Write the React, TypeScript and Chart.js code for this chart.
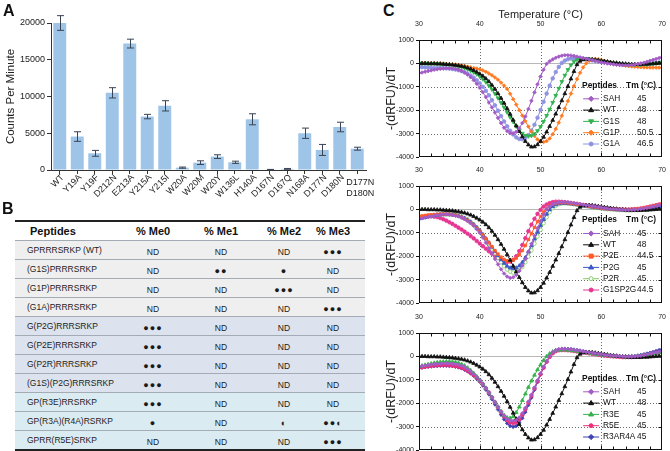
import React, { useEffect, useRef } from 'react';
import { Chart, registerables } from 'chart.js';

Chart.register(...registerables);

const FONT = '"Liberation Sans", Arial, Helvetica, sans-serif';

// ---------------- Panel A data ----------------
const mutants = ['WT', 'Y19A', 'Y19F', 'D212N', 'E213A', 'Y215A', 'Y215I', 'W20A', 'W20M', 'W20Y', 'W136L', 'H140A', 'D167N', 'D167Q', 'N168A', 'D177N', 'D180N', 'D177N D180N'];
const cpm = [20000, 4550, 2270, 10500, 17200, 7270, 8730, 320, 1000, 1820, 1050, 6900, 50, 150, 5000, 2730, 5850, 2900];
const cpmErr = [1000, 650, 400, 700, 600, 300, 700, 80, 250, 250, 150, 750, 30, 60, 700, 750, 650, 200];

// ---------------- Panel B data ----------------
const peptides = ['GPRRRSRKP (WT)', '(G1S)PRRRSRKP', '(G1P)PRRRSRKP', '(G1A)PRRRSRKP', 'G(P2G)RRRSRKP', 'G(P2E)RRRSRKP', 'G(P2R)RRRSRKP', '(G1S)(P2G)RRRSRKP', 'GP(R3E)RRSRKP', 'GP(R3A)(R4A)RSRKP', 'GPRR(R5E)SRKP'];
const me0 = ['ND', 'ND', 'ND', 'ND', '●●●', '●●●', '●●●', '●●●', '●●●', '●', 'ND'];
const me1 = ['ND', '●●', 'ND', 'ND', 'ND', 'ND', 'ND', 'ND', 'ND', 'ND', 'ND'];
const me2 = ['ND', '●', '●●●', 'ND', 'ND', 'ND', 'ND', 'ND', 'ND', '◐', 'ND'];
const me3 = ['●●●', 'ND', 'ND', '●●●', 'ND', 'ND', 'ND', 'ND', 'ND', '●●◐', '●●●'];
const tableHeaders = ['Peptides', '% Me0', '% Me1', '% Me2', '% Me3'];

// ---------------- Panel C data ----------------
const temps = [
  30, 30.5, 31, 31.5, 32, 32.5, 33, 33.5, 34, 34.5,
  35, 35.5, 36, 36.5, 37, 37.5, 38, 38.5, 39, 39.5,
  40, 40.5, 41, 41.5, 42, 42.5, 43, 43.5, 44, 44.5,
  45, 45.5, 46, 46.5, 47, 47.5, 48, 48.5, 49, 49.5,
  50, 50.5, 51, 51.5, 52, 52.5, 53, 53.5, 54, 54.5,
  55, 55.5, 56, 56.5, 57, 57.5, 58, 58.5, 59, 59.5,
  60, 60.5, 61, 61.5, 62, 62.5, 63, 63.5, 64, 64.5,
  65, 65.5, 66, 66.5, 67, 67.5, 68, 68.5, 69, 69.5,
  70];

const wtCurve = [
  0, 0, 0, -10, -10, -10, -20, -20, -30, -40,
  -50, -60, -80, -100, -120, -150, -190, -240, -300, -370,
  -450, -540, -650, -780, -930, -1100, -1290, -1490, -1700, -1930,
  -2170, -2420, -2670, -2910, -3130, -3330, -3480, -3570, -3560, -3470,
  -3330, -3150, -2930, -2690, -2430, -2160, -1880, -1590, -1290, -980,
  -660, -340, -50, 100, 160, 180, 180, 170, 150, 130,
  110, 90, 70, 50, 30, 20, 0, -10, -20, -30,
  -40, -40, -40, -40, -30, -30, -20, -10, 0, 10,
  20];

const p1SAH = [
  -420, -390, -360, -330, -300, -270, -250, -230, -220, -210,
  -210, -220, -240, -270, -320, -390, -480, -590, -720, -870,
  -1040, -1230, -1440, -1670, -1880, -2100, -2330, -2550, -2750, -2890,
  -2980, -2990, -2920, -2770, -2550, -2270, -1950, -1600, -1240, -890,
  -560, -270, -20, 90, 170, 240, 290, 330, 350, 350,
  340, 320, 290, 260, 230, 200, 170, 140, 110, 80,
  50, 20, 0, -20, -40, -60, -70, -80, -80, -80,
  -70, -50, -30, 0, 30, 70, 110, 150, 190, 230,
  270];
const p1G1S = [
  0, 0, 0, 0, -10, -10, -20, -30, -40, -50,
  -60, -80, -100, -130, -160, -200, -250, -310, -380, -460,
  -560, -670, -800, -950, -1110, -1290, -1480, -1680, -1880, -2090,
  -2300, -2500, -2690, -2860, -2990, -3080, -3110, -3090, -3010, -2880,
  -2700, -2480, -2230, -1960, -1670, -1370, -1070, -780, -510, -270,
  -70, 80, 160, 200, 210, 200, 180, 160, 140, 120,
  100, 70, 50, 30, 10, -10, -30, -40, -50, -60,
  -60, -60, -60, -50, -40, -30, -20, -10, 0, 20,
  40];
const p1G1P = [
  20, 20, 20, 20, 10, 10, 0, 0, -10, -20,
  -30, -40, -50, -60, -80, -110, -140, -170, -200, -220,
  -250, -300, -360, -430, -510, -600, -700, -820, -950, -1090,
  -1300, -1530, -1760, -2000, -2230, -2470, -2700, -2920, -3100, -3250,
  -3340, -3360, -3320, -3210, -3030, -2800, -2530, -2240, -1930, -1610,
  -1290, -970, -670, -400, -170, 0, 110, 170, 190, 180,
  150, 110, 70, 30, 0, -30, -60, -80, -100, -120,
  -130, -140, -150, -160, -170, -170, -180, -180, -180, -180,
  -180];
const p1G1A = [
  -150, -160, -170, -180, -190, -200, -200, -200, -200, -210,
  -220, -240, -260, -290, -330, -380, -440, -520, -610, -720,
  -850, -1000, -1170, -1360, -1570, -1790, -2020, -2250, -2480, -2690,
  -2880, -3040, -3160, -3230, -3240, -3180, -3060, -2870, -2620, -2320,
  -1990, -1640, -1290, -950, -640, -370, -150, 20, 120, 180,
  210, 220, 220, 210, 190, 170, 150, 130, 110, 90,
  70, 50, 30, 10, 0, -20, -30, -40, -50, -60,
  -60, -60, -50, -50, -40, -30, -20, 0, 20, 40,
  60];

const p2SAH = [
  -400, -380, -350, -320, -290, -260, -240, -220, -210, -210,
  -220, -240, -270, -300, -350, -420, -500, -590, -700, -850,
  -1000, -1200, -1420, -1650, -1880, -2120, -2350, -2560, -2740, -2870,
  -2930, -2900, -2800, -2630, -2400, -2120, -1800, -1470, -1130, -800,
  -500, -230, 0, 130, 220, 270, 300, 310, 310, 300,
  290, 270, 250, 230, 200, 180, 160, 140, 120, 100,
  80, 60, 40, 20, 10, 0, -10, -10, -20, -20,
  -20, -10, 0, 20, 40, 60, 90, 120, 150, 180,
  210];
const p2P2E = [
  -300, -280, -260, -240, -230, -220, -210, -200, -200, -200,
  -210, -230, -250, -290, -340, -400, -480, -570, -680, -800,
  -940, -1090, -1250, -1420, -1590, -1760, -1910, -2040, -2140, -2200,
  -2210, -2170, -2080, -1940, -1760, -1540, -1290, -1030, -770, -520,
  -300, -110, 40, 150, 220, 260, 280, 290, 290, 280,
  260, 240, 220, 200, 180, 160, 140, 120, 100, 80,
  60, 40, 30, 20, 10, 0, 0, -10, -10, -10,
  0, 10, 20, 40, 60, 80, 110, 140, 170, 200,
  230];
const p2P2G = [
  -400, -370, -340, -310, -280, -260, -240, -230, -220, -220,
  -220, -230, -250, -280, -320, -380, -450, -540, -650, -770,
  -910, -1070, -1240, -1420, -1610, -1800, -1980, -2150, -2300, -2420,
  -2500, -2530, -2500, -2410, -2260, -2060, -1820, -1550, -1260, -970,
  -690, -430, -200, -10, 120, 200, 240, 260, 260, 250,
  240, 220, 200, 180, 160, 140, 120, 100, 80, 60,
  50, 30, 20, 10, 0, -10, -20, -20, -30, -30,
  -20, -20, -10, 0, 20, 30, 50, 70, 90, 110,
  130];
const p2P2R = [
  -350, -330, -310, -290, -270, -250, -230, -220, -210, -210,
  -210, -220, -240, -270, -310, -370, -440, -530, -640, -770,
  -920, -1090, -1270, -1470, -1670, -1870, -2070, -2260, -2430, -2570,
  -2660, -2700, -2680, -2600, -2460, -2260, -2020, -1750, -1460, -1160,
  -870, -590, -340, -120, 50, 160, 220, 250, 260, 250,
  240, 220, 200, 180, 160, 140, 120, 100, 80, 60,
  40, 20, 10, 0, -10, -20, -30, -30, -40, -40,
  -40, -30, -30, -20, -10, 0, 20, 30, 50, 60,
  80];
const p2G1SP2G = [
  -330, -320, -310, -300, -300, -310, -330, -370, -420, -480,
  -550, -620, -700, -780, -860, -950, -1040, -1140, -1240, -1350,
  -1460, -1570, -1680, -1790, -1890, -1990, -2080, -2160, -2220, -2250,
  -2230, -2150, -2000, -1780, -1520, -1230, -930, -650, -400, -190,
  -20, 120, 210, 270, 310, 330, 330, 320, 310, 290,
  270, 250, 230, 210, 190, 170, 150, 130, 110, 90,
  70, 50, 40, 30, 20, 10, 0, 0, -10, -10,
  0, 10, 20, 40, 60, 90, 120, 150, 180, 210,
  240];

const p3SAH = [
  -430, -410, -390, -370, -350, -330, -320, -310, -300, -300,
  -300, -310, -330, -360, -400, -460, -540, -640, -750, -880,
  -1020, -1180, -1360, -1550, -1750, -1960, -2160, -2360, -2530, -2660,
  -2740, -2760, -2720, -2610, -2430, -2200, -1930, -1640, -1330, -1020,
  -720, -440, -190, 20, 170, 260, 300, 320, 320, 310,
  300, 280, 260, 240, 210, 190, 170, 150, 130, 110,
  90, 70, 50, 40, 30, 20, 10, 0, -10, -10,
  -10, 0, 10, 30, 50, 80, 110, 140, 170, 200,
  230];
const p3R3E = [
  -430, -400, -370, -340, -310, -280, -260, -240, -230, -220,
  -220, -230, -250, -280, -330, -400, -490, -600, -720, -860,
  -1010, -1170, -1350, -1540, -1740, -1950, -2150, -2350, -2520, -2620,
  -2640, -2570, -2400, -2160, -1880, -1600, -1320, -1050, -800, -570,
  -360, -170, 0, 120, 200, 250, 270, 280, 280, 270,
  260, 240, 220, 200, 180, 160, 140, 120, 100, 80,
  60, 50, 40, 30, 20, 10, 0, -10, -20, -20,
  -20, -10, 0, 20, 40, 60, 90, 110, 140, 160,
  190];
const p3R5E = [
  -480, -460, -440, -420, -400, -390, -380, -370, -370, -370,
  -380, -390, -410, -440, -480, -540, -610, -700, -800, -910,
  -1040, -1190, -1360, -1550, -1750, -1960, -2170, -2380, -2570, -2720,
  -2820, -2850, -2810, -2690, -2500, -2260, -1980, -1680, -1370, -1060,
  -760, -480, -230, -20, 130, 220, 260, 270, 270, 260,
  250, 230, 210, 190, 170, 150, 130, 110, 90, 70,
  50, 30, 20, 10, 0, -10, -20, -30, -30, -30,
  -30, -20, -10, 10, 30, 50, 80, 110, 140, 170,
  200];
const p3R3AR4A = [
  -500, -480, -460, -440, -430, -420, -410, -400, -400, -400,
  -410, -420, -440, -470, -510, -570, -640, -730, -830, -950,
  -1080, -1240, -1420, -1620, -1830, -2050, -2270, -2490, -2690, -2860,
  -2970, -3010, -2970, -2840, -2640, -2380, -2080, -1760, -1430, -1100,
  -780, -490, -230, -10, 150, 250, 300, 320, 330, 320,
  310, 290, 270, 250, 220, 200, 170, 150, 130, 110,
  90, 70, 50, 40, 30, 20, 10, 0, 0, 0,
  10, 20, 40, 60, 90, 120, 150, 190, 230, 270,
  310];

const plot1Names = ['SAH', 'WT', 'G1S', 'G1P', 'G1A'];
const plot1Tm = ['45', '48', '48', '50.5', '46.5'];
const plot1Values = [p1SAH, wtCurve, p1G1S, p1G1P, p1G1A];

const plot2Names = ['SAH', 'WT', 'P2E', 'P2G', 'P2R', 'G1SP2G'];
const plot2Tm = ['45', '48', '44.5', '45', '45', '44.5'];
const plot2Values = [p2SAH, wtCurve, p2P2E, p2P2G, p2P2R, p2G1SP2G];

const plot3Names = ['SAH', 'WT', 'R3E', 'R5E', 'R3AR4A'];
const plot3Tm = ['45', '48', '45', '45', '45'];
const plot3Values = [p3SAH, wtCurve, p3R3E, p3R5E, p3R3AR4A];

// ---------------- styles (not data) ----------------
type Sty = { color: string; point: string; rot?: number; fill?: string };
const plot1Styles: Sty[] = [
  { color: '#a35cc6', point: 'rectRot' },
  { color: '#111111', point: 'triangle' },
  { color: '#2fb34c', point: 'triangle', rot: 180 },
  { color: '#ff7a22', point: 'rectRot' },
  { color: '#8f92e2', point: 'circle' },
];
const plot2Styles: Sty[] = [
  { color: '#a35cc6', point: 'rectRot' },
  { color: '#111111', point: 'triangle' },
  { color: '#ff5a28', point: 'rect' },
  { color: '#3a58c8', point: 'triangle' },
  { color: '#86cc62', point: 'circle', fill: '#ffffff' },
  { color: '#e63592', point: 'circle' },
];
const plot3Styles: Sty[] = [
  { color: '#a35cc6', point: 'rectRot' },
  { color: '#111111', point: 'triangle' },
  { color: '#36b24a', point: 'triangle' },
  { color: '#ec2f7c', point: 'circle' },
  { color: '#3d42b4', point: 'rectRot' },
];

function drawMarker(ctx: CanvasRenderingContext2D, s: Sty, x: number, y: number, r: number) {
  ctx.save();
  ctx.translate(x, y);
  ctx.rotate(((s.rot || 0) * Math.PI) / 180);
  ctx.beginPath();
  if (s.point === 'circle') ctx.arc(0, 0, r, 0, Math.PI * 2);
  else if (s.point === 'rect') ctx.rect(-r, -r, 2 * r, 2 * r);
  else if (s.point === 'rectRot') {
    const q = r * 1.3;
    ctx.moveTo(0, -q); ctx.lineTo(q, 0); ctx.lineTo(0, q); ctx.lineTo(-q, 0); ctx.closePath();
  } else {
    const q = r * 1.3;
    ctx.moveTo(0, -q); ctx.lineTo(q * 0.95, q * 0.6); ctx.lineTo(-q * 0.95, q * 0.6); ctx.closePath();
  }
  ctx.fillStyle = s.fill || s.color;
  ctx.fill();
  ctx.strokeStyle = s.color;
  ctx.lineWidth = 1;
  ctx.stroke();
  ctx.restore();
}

function makeBar(canvas: HTMLCanvasElement) {
  const errorBars = {
    id: 'errorBars',
    afterDatasetsDraw(chart: any) {
      const { ctx } = chart;
      const y = chart.scales.y;
      const meta = chart.getDatasetMeta(0);
      ctx.save();
      ctx.strokeStyle = '#3b4453';
      ctx.lineWidth = 1;
      meta.data.forEach((bar: any, i: number) => {
        const x = Math.round(bar.x) + 0.5;
        const t = y.getPixelForValue(cpm[i] + cpmErr[i]);
        const b = y.getPixelForValue(Math.max(0, cpm[i] - cpmErr[i]));
        ctx.beginPath();
        ctx.moveTo(x, t); ctx.lineTo(x, b);
        ctx.moveTo(x - 3.5, t); ctx.lineTo(x + 3.5, t);
        ctx.moveTo(x - 3.5, b); ctx.lineTo(x + 3.5, b);
        ctx.stroke();
      });
      ctx.restore();
    },
  };
  const xLabels = {
    id: 'xLabels',
    afterDraw(chart: any) {
      const { ctx } = chart;
      const xs = chart.scales.x;
      ctx.save();
      ctx.fillStyle = '#222';
      ctx.font = `9px ${FONT}`;
      mutants.forEach((lab, i) => {
        const px = xs.getPixelForValue(i);
        if (i === mutants.length - 1) {
          const parts = lab.split(' ');
          ctx.textAlign = 'center';
          ctx.textBaseline = 'middle';
          ctx.fillText(parts[0], px + 3, 183);
          ctx.fillText(parts[1], px + 3, 194);
        } else {
          ctx.save();
          ctx.translate(px + 3, 176);
          ctx.rotate(-Math.PI / 4);
          ctx.textAlign = 'right';
          ctx.textBaseline = 'middle';
          ctx.fillText(lab, 0, 0);
          ctx.restore();
        }
      });
      ctx.restore();
    },
  };
  return new Chart(canvas, {
    type: 'bar',
    data: {
      labels: mutants,
      datasets: [{ data: cpm, backgroundColor: '#9ec4e8', borderWidth: 0, barPercentage: 0.74, categoryPercentage: 1 }],
    },
    options: {
      animation: false,
      responsive: false,
      maintainAspectRatio: false,
      layout: { padding: { top: 23, right: 14, left: 0, bottom: 0 } },
      plugins: { legend: { display: false }, tooltip: { enabled: false } },
      scales: {
        x: {
          grid: { drawOnChartArea: false, offset: false, tickLength: 4, color: '#333', tickColor: '#333' },
          border: { color: '#333', width: 1 },
          ticks: { display: false },
          afterFit: (s: any) => { s.height = 30; },
        },
        y: {
          min: 0,
          max: 20000,
          ticks: { stepSize: 5000, font: { family: FONT, size: 9 }, color: '#222', padding: 2, callback: (v: any) => String(v) },
          grid: { drawOnChartArea: false, tickLength: 4, color: '#333', tickColor: '#333' },
          border: { color: '#333', width: 1 },
          title: { display: true, text: 'Counts Per Minute', font: { family: FONT, size: 11.5 }, color: '#222', padding: { top: 4, bottom: 0 } },
          afterFit: (s: any) => { s.width = 51; },
        },
      },
    } as any,
    plugins: [errorBars, xLabels],
  });
}

function makeMelt(canvas: HTMLCanvasElement, values: number[][], names: string[], tms: string[], styles: Sty[], showTitle: boolean, xHeight: number, padBottom: number) {
  const decor = {
    id: 'meltDecor',
    beforeDatasetsDraw(chart: any) {
      const { ctx, chartArea: a } = chart;
      const x = chart.scales.x, y = chart.scales.y;
      ctx.save();
      ctx.lineWidth = 1;
      ctx.strokeStyle = '#6a6a6a';
      ctx.setLineDash([1, 2]);
      [40, 50, 60].forEach((t) => {
        const px = Math.round(x.getPixelForValue(t)) + 0.5;
        ctx.beginPath(); ctx.moveTo(px, a.top); ctx.lineTo(px, a.bottom); ctx.stroke();
      });
      [-1000, -2000, -3000].forEach((v) => {
        const py = Math.round(y.getPixelForValue(v)) + 0.5;
        ctx.beginPath(); ctx.moveTo(a.left, py); ctx.lineTo(a.right, py); ctx.stroke();
      });
      ctx.setLineDash([]);
      ctx.strokeStyle = '#b8b8b8';
      const pz = Math.round(y.getPixelForValue(0)) + 0.5;
      ctx.beginPath(); ctx.moveTo(a.left, pz); ctx.lineTo(a.right, pz); ctx.stroke();
      ctx.restore();
    },
    afterDatasetsDraw(chart: any) {
      const { ctx, chartArea: a } = chart;
      const x = chart.scales.x, y = chart.scales.y;
      ctx.save();
      ctx.strokeStyle = '#111';
      ctx.lineWidth = 1;
      const L = Math.round(a.left) + 0.5, R = Math.round(a.right) - 0.5, T = Math.round(a.top) + 0.5, B = Math.round(a.bottom) - 0.5;
      ctx.strokeRect(L, T, R - L, B - T);
      ctx.beginPath();
      for (let t = 32; t < 70; t += 2) {
        const px = Math.round(x.getPixelForValue(t)) + 0.5;
        const len = t % 10 === 0 ? 4 : 3;
        ctx.moveTo(px, T); ctx.lineTo(px, T + len);
        ctx.moveTo(px, B); ctx.lineTo(px, B - len);
      }
      for (let v = -3000; v <= 0; v += 1000) {
        const py = Math.round(y.getPixelForValue(v)) + 0.5;
        ctx.moveTo(R, py); ctx.lineTo(R - 3, py);
      }
      ctx.stroke();
      // legend
      const n = names.length;
      const rowH = 11.3;
      const lastY = a.bottom - 13;
      const firstY = lastY - rowH * (n - 1);
      const titleY = firstY - 13.5;
      ctx.fillStyle = '#111';
      ctx.textBaseline = 'middle';
      ctx.textAlign = 'left';
      ctx.font = `bold 8.4px ${FONT}`;
      ctx.fillText('Peptides', a.right - 80, titleY);
      ctx.fillText('Tm (°C)', a.right - 36, titleY);
      ctx.font = `8.3px ${FONT}`;
      for (let i = 0; i < n; i++) {
        const ry = firstY + i * rowH;
        const s = styles[i];
        ctx.strokeStyle = s.color;
        ctx.lineWidth = 1;
        ctx.beginPath(); ctx.moveTo(a.right - 79, ry); ctx.lineTo(a.right - 63, ry); ctx.stroke();
        drawMarker(ctx, s, a.right - 71, ry, 2);
        ctx.fillStyle = '#111';
        ctx.fillText(names[i], a.right - 59, ry);
        ctx.fillText(tms[i], a.right - 25, ry);
      }
      ctx.restore();
    },
  };
  const datasets = values.map((vals, i) => {
    const s = styles[i];
    return {
      label: names[i],
      data: vals,
      borderColor: s.color,
      backgroundColor: s.color,
      pointBackgroundColor: s.fill || s.color,
      pointBorderColor: s.color,
      pointStyle: s.point,
      pointRotation: s.rot || 0,
      pointRadius: s.point === 'triangle' ? 2.2 : 1.8,
      pointBorderWidth: 0.8,
      borderWidth: 1,
      tension: 0,
    };
  });
  return new Chart(canvas, {
    type: 'line',
    data: { labels: temps, datasets },
    options: {
      animation: false,
      responsive: false,
      maintainAspectRatio: false,
      layout: { padding: { top: 0, right: 4, left: 0, bottom: padBottom } },
      plugins: { legend: { display: false }, tooltip: { enabled: false } },
      scales: {
        x: {
          type: 'linear',
          position: 'top',
          min: 30,
          max: 70,
          ticks: { stepSize: 10, font: { family: FONT, size: 7 }, color: '#222', padding: 4, maxRotation: 0 },
          grid: { display: false },
          border: { display: false },
          title: { display: showTitle, text: 'Temperature (°C)', font: { family: FONT, size: 11 }, color: '#222', padding: { top: 8, bottom: 0 } },
          afterFit: (s: any) => { s.height = xHeight; },
        },
        y: {
          min: -4000,
          max: 1000,
          ticks: { stepSize: 1000, font: { family: FONT, size: 7 }, color: '#222', padding: 2, callback: (v: any) => String(v) },
          grid: { display: true, drawOnChartArea: false, drawTicks: true, tickLength: 3, color: '#111', tickColor: '#111' },
          border: { display: false },
          title: { display: true, text: '-(dRFU)/dT', font: { family: FONT, size: 12.5 }, color: '#222', padding: { top: 4, bottom: 4 } },
          afterFit: (s: any) => { s.width = 39; },
        },
      },
    } as any,
    plugins: [decor],
  });
}

const rowBg = (i: number) => (i < 4 ? '#efefef' : i < 8 ? '#dce3ee' : '#dbebf2');
const colCenters = [153, 221, 284, 333];

export default function App() {
  const aRef = useRef<HTMLCanvasElement>(null);
  const c1Ref = useRef<HTMLCanvasElement>(null);
  const c2Ref = useRef<HTMLCanvasElement>(null);
  const c3Ref = useRef<HTMLCanvasElement>(null);

  useEffect(() => {
    const charts: Chart[] = [];
    charts.push(makeBar(aRef.current!));
    charts.push(makeMelt(c1Ref.current!, plot1Values, plot1Names, plot1Tm, plot1Styles, true, 40, 8));
    charts.push(makeMelt(c2Ref.current!, plot2Values, plot2Names, plot2Tm, plot2Styles, false, 21, 7));
    charts.push(makeMelt(c3Ref.current!, plot3Values, plot3Names, plot3Tm, plot3Styles, false, 21, 10));
    return () => charts.forEach((c) => c.destroy());
  }, []);

  const panelLabel = (text: string, left: number, top: number) => (
    <div style={{ position: 'absolute', left, top, font: `bold 16px/16px ${FONT}`, color: '#111' }}>{text}</div>
  );

  const cellText = (txt: string) => {
    const isDot = txt.indexOf('ND') < 0;
    return (
      <span style={isDot ? { fontSize: 9, letterSpacing: '1px' } : { fontSize: 8.5 }}>{txt}</span>
    );
  };

  return (
    <div style={{ position: 'absolute', left: 0, top: 0, width: 670, height: 451, overflow: 'hidden', background: '#ffffff', fontFamily: FONT, color: '#222' }}>
      <canvas ref={aRef} width={380} height={200} style={{ position: 'absolute', left: 0, top: 0, width: 380, height: 200 }} />
      {panelLabel('A', 3, 3)}
      {panelLabel('B', 2, 201)}
      {panelLabel('C', 383, 3)}

      {/* Table */}
      <div style={{ position: 'absolute', left: 15, top: 220, width: 350, height: 2, background: '#222' }} />
      <div style={{ position: 'absolute', left: 15, top: 222, width: 350, height: 18 }}>
        <div style={{ position: 'absolute', left: 15, top: 0, height: 18, lineHeight: '18px', fontWeight: 'bold', fontSize: 11, color: '#111' }}>{tableHeaders[0]}</div>
        {tableHeaders.slice(1).map((h, j) => (
          <div key={h} style={{ position: 'absolute', left: colCenters[j] - 15 - 30, width: 60, top: 0, height: 18, lineHeight: '18px', textAlign: 'center', fontWeight: 'bold', fontSize: 11, color: '#111' }}>{h}</div>
        ))}
      </div>
      {peptides.map((p, i) => {
        const cells = [me0[i], me1[i], me2[i], me3[i]];
        return (
          <div key={p} style={{ position: 'absolute', left: 15, top: 240 + i * 19, width: 350, height: 19, background: rowBg(i), borderTop: '1px solid #a3abb4', boxSizing: 'border-box' }}>
            <div style={{ position: 'absolute', left: 12, top: 0, height: 18, lineHeight: '18px', fontSize: 8.5, color: '#222', whiteSpace: 'nowrap' }}>{p}</div>
            {cells.map((c, j) => (
              <div key={j} style={{ position: 'absolute', left: colCenters[j] - 15 - 30, width: 60, top: 0, height: 18, lineHeight: '18px', textAlign: 'center', color: '#1a1a1a', whiteSpace: 'nowrap' }}>{cellText(c)}</div>
            ))}
          </div>
        );
      })}
      <div style={{ position: 'absolute', left: 15, top: 449, width: 350, height: 2, background: '#222' }} />

      <canvas ref={c1Ref} width={290} height={165} style={{ position: 'absolute', left: 380, top: 0, width: 290, height: 165 }} />
      <canvas ref={c2Ref} width={290} height={145} style={{ position: 'absolute', left: 380, top: 165, width: 290, height: 145 }} />
      <canvas ref={c3Ref} width={290} height={148} style={{ position: 'absolute', left: 380, top: 312, width: 290, height: 148 }} />
    </div>
  );
}
